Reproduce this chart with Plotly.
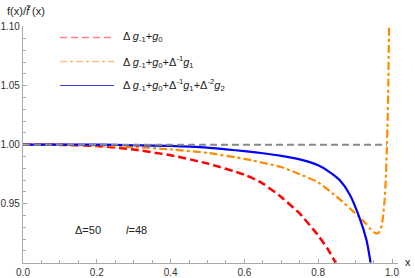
import plotly.graph_objects as go

# ---- data ----
x_red = [0.0, 0.1, 0.2, 0.3, 0.4, 0.5, 0.6, 0.65, 0.7, 0.75, 0.8, 0.825, 0.847]
y_red = [1.0, 0.9998, 0.9988, 0.9958, 0.991, 0.984, 0.9745, 0.967, 0.9555, 0.9415, 0.923, 0.912, 0.900]

x_orange = [0.0, 0.1, 0.2, 0.3, 0.4, 0.5, 0.6, 0.7, 0.75, 0.8, 0.85, 0.9, 0.93, 0.94, 0.95, 0.955,
            0.96, 0.965, 0.97, 0.975, 0.98, 0.983, 0.986, 0.988, 0.990, 0.992]
y_orange = [1.0, 1.0, 0.9995, 0.998, 0.996, 0.993, 0.988, 0.981, 0.975, 0.968, 0.956, 0.942,
            0.933, 0.929, 0.926, 0.925, 0.9247, 0.9258, 0.929, 0.937, 0.953, 0.970, 0.995,
            1.02, 1.05, 1.10]

x_blue = [0.0, 0.2, 0.3, 0.4, 0.5, 0.55, 0.6, 0.65, 0.7, 0.75, 0.8, 0.83, 0.858, 0.885, 0.912, 0.931, 0.942]
y_blue = [1.0, 1.0, 0.9995, 0.999, 0.9975, 0.996, 0.9945, 0.9927, 0.9905, 0.9875, 0.9825, 0.977,
          0.970, 0.958, 0.938, 0.919, 0.900]

x_ref = [0.0, 0.986]
y_ref = [1.0, 1.0]

x_ticks = [0.0, 0.2, 0.4, 0.6, 0.8, 1.0]
x_ticklabels = ["0.0", "0.2", "0.4", "0.6", "0.8", "1.0"]
y_ticks = [0.95, 1.00, 1.05, 1.10]
y_ticklabels = ["0.95", "1.00", "1.05", "1.10"]

legend_labels = [
    "Δ <i>g</i><sub>-1</sub>+<i>g</i><sub>0</sub>",
    "Δ <i>g</i><sub>-1</sub>+<i>g</i><sub>0</sub>+Δ<sup>-1</sup><i>g</i><sub>1</sub>",
    "Δ <i>g</i><sub>-1</sub>+<i>g</i><sub>0</sub>+Δ<sup>-1</sup><i>g</i><sub>1</sub>+Δ<sup>-2</sup><i>g</i><sub>2</sub>",
]

W, H = 415, 278
L, R, T, B = 23, 17, 26, 15
FONT = "Liberation Sans, Arial, sans-serif"

fig = go.Figure()
fig.add_trace(go.Scatter(x=x_red, y=y_red, mode="lines", line_shape="spline",
                         line=dict(color="#FF0000", width=2.5, dash="8px,4px", smoothing=0.6),
                         showlegend=False))
fig.add_trace(go.Scatter(x=x_orange, y=y_orange, mode="lines", line_shape="spline",
                         line=dict(color="#FF8C00", width=2.2, dash="8px,3px,3px,3px", smoothing=0.4),
                         showlegend=False))
fig.add_trace(go.Scatter(x=x_blue, y=y_blue, mode="lines", line_shape="spline",
                         line=dict(color="#0000FF", width=2.2, smoothing=0.6), showlegend=False))
fig.add_trace(go.Scatter(x=x_ref, y=y_ref, mode="lines",
                         line=dict(color="#888888", width=2, dash="7px,4px"), showlegend=False))

pw, ph = W - L - R, H - T - B
def px(xp):
    return (xp - L) / pw
def py(yp):
    return 1 - (yp - T) / ph

# manual legend
leg_styles = [
    dict(color="#FF8080", width=1.6, dash="7px,4px"),
    dict(color="#FFC080", width=1.4, dash="7px,3px,3px,3px"),
    dict(color="#4040E0", width=1.2),
]
leg_y = [37.5, 61.5, 85.5]
for st, yy, lab in zip(leg_styles, leg_y, legend_labels):
    fig.add_shape(type="line", xref="paper", yref="paper",
                  x0=px(60), x1=px(114), y0=py(yy), y1=py(yy), line=st)
    fig.add_annotation(xref="paper", yref="paper", x=px(121), y=py(yy), text=lab,
                       showarrow=False, xanchor="left", yanchor="middle",
                       font=dict(family=FONT, size=11, color="#222"))

fig.add_annotation(xref="paper", yref="paper", x=px(73), y=py(238), text="Δ=50",
                   showarrow=False, font=dict(family=FONT, size=11, color="#222"))
fig.add_annotation(xref="paper", yref="paper", x=px(124), y=py(238), text="<i>l</i>=48",
                   showarrow=False, font=dict(family=FONT, size=11, color="#222"))
fig.add_annotation(xref="paper", yref="paper", x=px(5), y=py(11), text="f(x)/<i>f̃</i> (x)",
                   showarrow=False, xanchor="left", yanchor="middle",
                   font=dict(family=FONT, size=11, color="#222"))
fig.add_annotation(xref="paper", yref="paper", x=px(408), y=py(262), text="x",
                   showarrow=False, xanchor="center", yanchor="middle",
                   font=dict(family=FONT, size=11, color="#222"))

fig.update_layout(
    width=W, height=H, margin=dict(l=L, r=R, t=T, b=B, autoexpand=False),
    paper_bgcolor="white", plot_bgcolor="white",
    font=dict(family=FONT, size=10, color="#333"),
    xaxis=dict(range=[0, pw / 369.0], showgrid=False, zeroline=False,
               showline=True, linecolor="#aaaaaa", linewidth=1.3,
               tickvals=x_ticks, ticktext=x_ticklabels, ticks="inside", ticklen=4,
               tickcolor="#aaaaaa", tickwidth=1,
               minor=dict(dtick=0.05, tick0=0, ticks="inside", ticklen=2.5, tickcolor="#aaaaaa"),
               tickfont=dict(family=FONT, size=10, color="#333"), automargin=False),
    yaxis=dict(range=[0.8997, 0.8997 + ph / 1180.0], showgrid=False, zeroline=False,
               showline=True, linecolor="#aaaaaa", linewidth=1.3,
               tickvals=y_ticks, ticktext=y_ticklabels, ticks="inside", ticklen=4,
               tickcolor="#aaaaaa", tickwidth=1,
               minor=dict(dtick=0.01, tick0=0.9, ticks="inside", ticklen=2.5, tickcolor="#aaaaaa"),
               tickfont=dict(family=FONT, size=10, color="#333"), automargin=False),
)

fig.write_html("out.html", config={"displayModeBar": False},
               post_script="document.body.style.margin='0';document.body.style.overflow='hidden';")
